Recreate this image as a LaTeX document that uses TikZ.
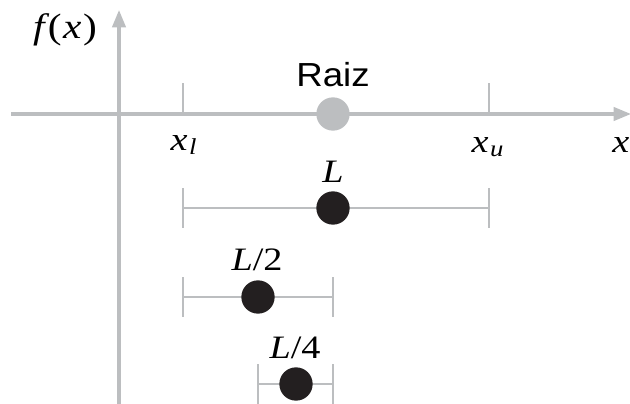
\documentclass[tikz,border=0pt]{standalone}
\usepackage{fontspec}
\newfontfamily\labelsans{Liberation Sans}
\newfontfamily\labelserif{Liberation Serif}
\usetikzlibrary{arrows.meta}
\definecolor{axisgray}{HTML}{BCBEC0}
\definecolor{dotblack}{HTML}{231F20}
\newcommand{\ivar}[1]{\textit{#1}}
\newcommand{\wide}[1]{\scalebox{1.17}[1]{#1}}
\begin{document}
\begin{tikzpicture}[x=0.75pt,y=-0.75pt,
  axisline/.style={draw=axisgray,line width=2.3pt,-{Triangle[length=13pt,width=10pt]}},
  graybar/.style={draw=axisgray,line width=2.1pt},
  blackdot/.style={circle,fill=dotblack,draw=none,minimum size=25pt,inner sep=0pt},
  graydot/.style={circle,fill=axisgray,draw=none,minimum size=25pt,inner sep=0pt},
  mathlabel/.style={inner sep=0pt,anchor=base,font=\labelserif\fontsize{24.5}{28}\selectfont},
  sanslabel/.style={inner sep=0pt,anchor=base,font=\labelsans\fontsize{25}{30}\selectfont}
]
\clip (0,0) rectangle (630,403);
% axes
\coordinate (xl) at (11,114);
\coordinate (xr) at (631,114);
\coordinate (yb) at (119,410);
\coordinate (yt) at (119,10);
\draw[axisline] (xl) -- (xr);
\draw[axisline] (yb) -- (yt);
% ticks on x-axis
\coordinate (tl) at (183,114);
\coordinate (tu) at (489,114);
\draw[graybar] (tl) -- ++(0,-31);
\draw[graybar] (tu) -- ++(0,-31);
% root
\node[graydot] (root) at (333,114) {};
\node[sanslabel] (raizlbl) at (333,86) {\scalebox{1.1}[1]{Raiz}};
% axis labels
\node[mathlabel,font=\labelserif\fontsize{26.5}{30}\selectfont] (fx) at (65,39) {\wide{\ivar{f\kern2pt}(\kern1pt\ivar{x}\kern1pt)}};
\node[mathlabel] (xllbl) at (184,150) {\wide{\ivar{x}\kern1pt\textsubscript{\ivar{l}}}};
\node[mathlabel] (xulbl) at (488,152) {\wide{\ivar{x}\kern1pt\textsubscript{\ivar{u}}}};
\node[mathlabel,anchor=base west] (xlbl) at (612,152) {\wide{\ivar{x}}};
% interval L
\coordinate (a1) at (183,208);
\coordinate (b1) at (489,208);
\draw[graybar] (a1) -- (b1);
\draw[graybar] ([yshift=15pt]a1) -- ([yshift=-15pt]a1);
\draw[graybar] ([yshift=15pt]b1) -- ([yshift=-15pt]b1);
\node[blackdot] (d1) at (333,208) {};
\node[mathlabel] (l1) at (333,182) {\wide{\ivar{L}}};
% interval L/2
\coordinate (a2) at (183,297);
\coordinate (b2) at (333,297);
\draw[graybar] (a2) -- (b2);
\draw[graybar] ([yshift=15pt]a2) -- ([yshift=-15pt]a2);
\draw[graybar] ([yshift=15pt]b2) -- ([yshift=-15pt]b2);
\node[blackdot] (d2) at (258,297) {};
\node[mathlabel] (l2) at (257,270) {\wide{\ivar{L}/2}};
% interval L/4
\coordinate (a3) at (258,384);
\coordinate (b3) at (333,384);
\draw[graybar] (a3) -- (b3);
\draw[graybar] ([yshift=15pt]a3) -- ([yshift=-15pt]a3);
\draw[graybar] ([yshift=15pt]b3) -- ([yshift=-15pt]b3);
\node[blackdot] (d3) at (296,384) {};
\node[mathlabel] (l3) at (295,358) {\wide{\ivar{L}/4}};
\end{tikzpicture}
\end{document}
